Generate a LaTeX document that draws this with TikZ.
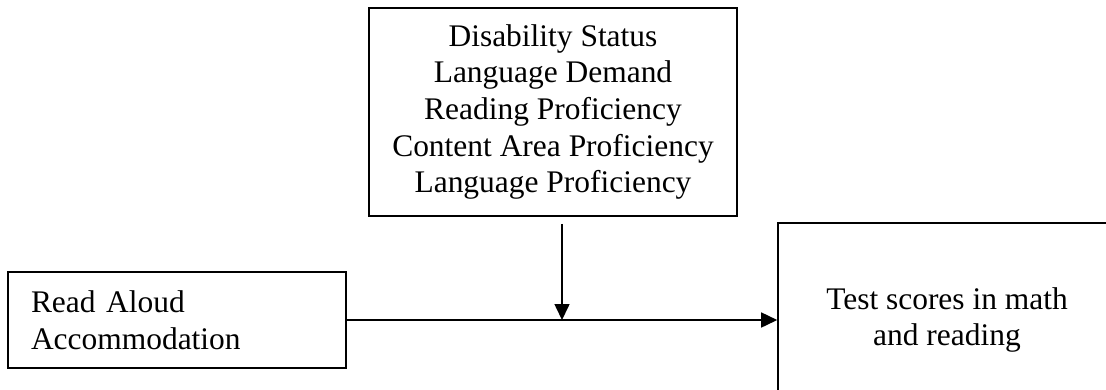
\documentclass[tikz,border=0pt]{standalone}
\usepackage{fontspec}
\setmainfont{Liberation Serif}
\usetikzlibrary{arrows.meta}
\tikzset{
  box/.style={draw,line width=0.9pt,inner sep=0pt,font=\fontsize{17.9}{20.9}\selectfont},
  link/.style={line width=0.9pt,-{Triangle[length=0.32cm,width=0.3cm]}}
}

\begin{document}
\begin{tikzpicture}
\clip (0,0) rectangle (22.12,7.78);
\node[box,align=center,minimum width=7.36cm,minimum height=4.16cm] (M) at (11.06,5.54){%
Disability Status\\
Language Demand\\
Reading Proficiency\\
Content Area Proficiency\\
Language Proficiency};
\node[box,align=left,text width=5.84cm,inner xsep=0.46cm,minimum height=1.92cm] (A) at (3.54,1.38){%
Read Aloud\\
Accommodation};
\node[box,align=center,minimum width=6.76cm,minimum height=3.88cm] (O) at (18.94,1.38){%
Test scores in math\\
and reading};
\coordinate (J) at ([xshift=0.18cm]M.south |- A.east);
\draw[link] (A.east) -- (A.east -| O.west);
\draw[link] ([xshift=0.18cm,yshift=-0.14cm]M.south) -- (J);
\end{tikzpicture}
\end{document}
